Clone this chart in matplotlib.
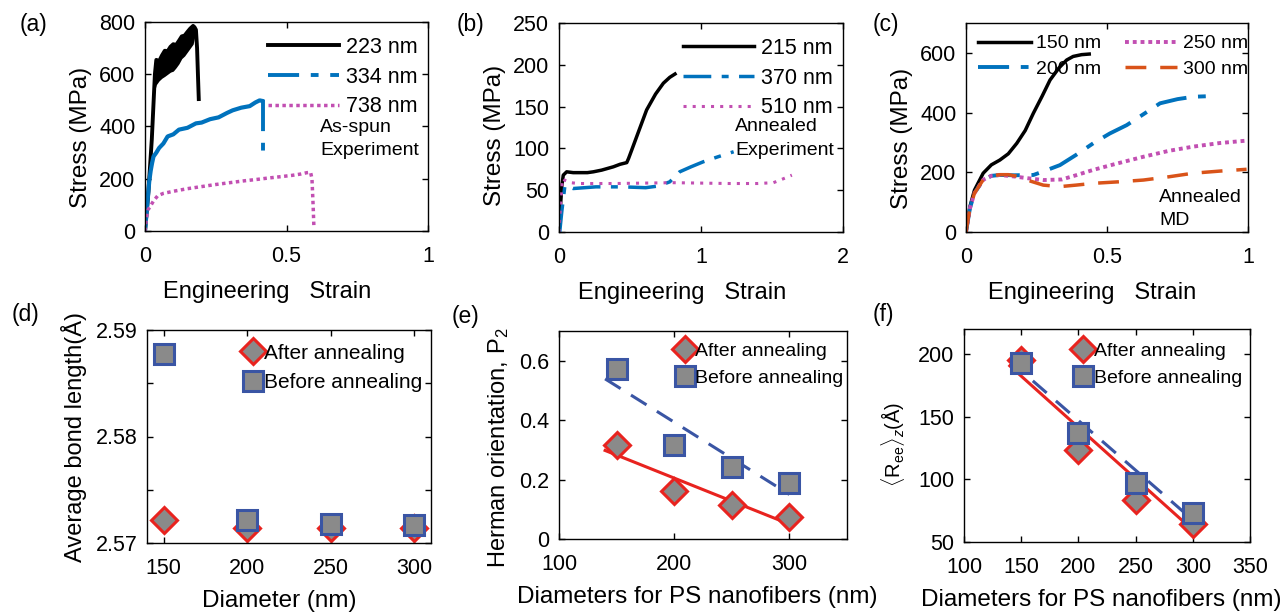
import matplotlib
matplotlib.use("Agg")
import matplotlib.pyplot as plt

plt.rcParams['font.family'] = ['Liberation Sans', 'DejaVu Sans']
plt.rcParams['mathtext.fontset'] = 'custom'
plt.rcParams['mathtext.rm'] = 'Liberation Sans'
plt.rcParams['mathtext.it'] = 'Liberation Sans:italic'
plt.rcParams['axes.linewidth'] = 1.0

# ============================================
# DATA
# ============================================

# -------- (a) As-spun experiment --------
a223_x = [0, 0.012, 0.024, 0.035, 0.04, 0.05, 0.06, 0.07, 0.08, 0.09, 0.10, 0.11, 0.12, 0.13, 0.14, 0.15, 0.16, 0.17, 0.175, 0.18, 0.184, 0.187, 0.19]
a223_y = [0, 150, 350, 600, 655, 650, 672, 690, 688, 705, 715, 712, 728, 745, 748, 762, 775, 785, 780, 770, 700, 600, 505]
a223_band_x = [0.035, 0.04, 0.05, 0.06, 0.07, 0.08, 0.09, 0.10, 0.11, 0.12, 0.13, 0.14, 0.15, 0.16, 0.17, 0.175]
a223_band_lo = [540, 560, 575, 585, 592, 600, 608, 612, 625, 640, 660, 670, 685, 700, 715, 740]
a223_band_hi = [600, 655, 650, 672, 690, 688, 705, 715, 712, 728, 745, 748, 762, 775, 785, 780]

a334_x = [0, 0.008, 0.015, 0.02, 0.025, 0.03, 0.04, 0.05, 0.065, 0.08, 0.1, 0.12, 0.15, 0.18, 0.2, 0.23, 0.26, 0.29, 0.31, 0.34, 0.37, 0.39, 0.405, 0.414]
a334_y = [0, 100, 190, 230, 260, 285, 300, 318, 335, 362, 370, 388, 395, 412, 415, 428, 435, 452, 462, 472, 478, 492, 500, 498]
a334_drop_x = [0.416, 0.416]
a334_drop_y = [500, 300]

a738_x = [0, 0.005, 0.01, 0.018, 0.03, 0.045, 0.065, 0.1, 0.15, 0.2, 0.25, 0.3, 0.35, 0.4, 0.43, 0.48, 0.52, 0.55, 0.571, 0.585, 0.59, 0.594, 0.597]
a738_y = [0, 50, 80, 93, 115, 135, 144, 152, 162, 170, 178, 185, 192, 198, 202, 208, 213, 218, 223, 225, 200, 100, 10]

# -------- (b) Annealed experiment --------
b215_x = [0, 0.01, 0.02, 0.03, 0.054, 0.1, 0.2, 0.242, 0.3, 0.383, 0.43, 0.477, 0.49, 0.512, 0.56, 0.617, 0.68, 0.735, 0.78, 0.817]
b215_y = [0, 30, 55, 68, 72, 71, 71, 72, 74, 78, 81, 83, 88, 98, 120, 146, 165, 178, 185, 189]

b370_x = [0.005, 0.02, 0.042, 0.07, 0.1, 0.26, 0.45, 0.61, 0.7, 0.78, 0.85, 0.93, 1.016, 1.12, 1.23]
b370_y = [0, 25, 56, 54, 52, 54, 54, 53, 55, 60, 72, 78, 84, 90, 96]

b510_x = [0, 0.01, 0.024, 0.04, 0.08, 0.14, 0.4, 0.8, 1.2, 1.4, 1.51, 1.57, 1.64]
b510_y = [0, 30, 64, 62, 59, 58, 58, 59, 58, 58, 59, 63, 68]

# -------- (c) Annealed MD --------
c150_x = [0, 0.014, 0.03, 0.061, 0.09, 0.12, 0.15, 0.18, 0.21, 0.239, 0.27, 0.298, 0.33, 0.357, 0.38, 0.41, 0.437]
c150_y = [0, 85, 140, 197, 225, 241, 262, 297, 340, 398, 455, 509, 550, 576, 588, 594, 596]
c200_x = [0, 0.014, 0.03, 0.061, 0.09, 0.12, 0.17, 0.239, 0.28, 0.333, 0.39, 0.451, 0.51, 0.57, 0.63, 0.688, 0.75, 0.806, 0.865]
c200_y = [0, 80, 130, 175, 188, 191, 190, 191, 205, 224, 258, 297, 330, 358, 395, 431, 445, 453, 455]
c250_x = [0, 0.014, 0.03, 0.061, 0.09, 0.12, 0.17, 0.22, 0.274, 0.34, 0.39, 0.451, 0.53, 0.629, 0.72, 0.806, 0.9, 0.995]
c250_y = [0, 80, 130, 175, 188, 191, 186, 180, 174, 176, 190, 208, 228, 252, 272, 286, 298, 306]
c300_x = [0, 0.014, 0.03, 0.061, 0.09, 0.12, 0.15, 0.19, 0.23, 0.274, 0.333, 0.39, 0.451, 0.54, 0.629, 0.72, 0.806, 0.9, 0.995]
c300_y = [0, 80, 130, 175, 188, 192, 192, 185, 170, 157, 152, 157, 163, 168, 174, 185, 197, 204, 210]

# -------- (d)-(f) vs diameter --------
diam = [150, 200, 250, 300]
bond_after = [2.5722, 2.5714, 2.5714, 2.5714]
bond_before = [2.5877, 2.5722, 2.5718, 2.5717]

herman_after = [0.315, 0.162, 0.114, 0.073]
herman_before = [0.572, 0.318, 0.242, 0.189]
herman_fit_x = [140, 300]
herman_fit_after = [0.298, 0.05]
herman_fit_before = [0.539, 0.15]

ree_after = [195.2, 123.8, 83.7, 64.5]
ree_before = [192.8, 137.2, 97.1, 73.5]
ree_fit_x = [140, 300]
ree_fit_after = [190.6, 59.6]
ree_fit_before = [194.6, 67.6]

# ============================================
# STYLE
# ============================================
BLUE = '#0072BD'
ORANGE = '#D95319'
MAG = '#C24FB2'
RED = '#E8231F'
DBLUE = '#3A55A4'
GRAY = '#8A8A8A'

W, H = 1288, 614
TICK_FS = 15.5
LEG_FS = 15.5
DASHDOT = (0, (8, 3, 2, 3))


def make_ax(l, r, t, b):
    ax = fig.add_axes([l / W, 1 - b / H, (r - l) / W, (b - t) / H])
    ax.tick_params(direction='in', top=True, right=True, labelsize=TICK_FS,
                   length=4, width=1.0)
    ax.tick_params(axis='x', pad=11)
    ax.tick_params(axis='y', pad=7)
    return ax


fig = plt.figure(figsize=(W / 100, H / 100), dpi=100)

# ---------------- (a) ----------------
ax = make_ax(145, 428, 22, 231)
ax.fill_between(a223_band_x, a223_band_lo, a223_band_hi, color='k', lw=0)
ax.plot(a223_x, a223_y, color='k', lw=2.8, label='223 nm')
ax.plot(a334_x, a334_y, color=BLUE, lw=3)
ax.plot(a334_drop_x, a334_drop_y, color=BLUE, lw=2.8, ls=DASHDOT, label='334 nm')
ax.plot(a738_x, a738_y, color=MAG, lw=2.5, ls=(0, (1, 1)), label='738 nm')
ax.set_xlim(0, 1)
ax.set_ylim(0, 800)
ax.set_xticks([0, 0.5, 1])
ax.set_xticklabels(['0', '0.5', '1'])
ax.set_yticks([0, 200, 400, 600, 800])
ax.set_xlabel('Engineering   Strain', fontsize=17, labelpad=10)
ax.xaxis.label.set_x(0.43)
ax.set_ylabel('Stress (MPa)', fontsize=17.5, labelpad=5)
ax.yaxis.label.set_y(0.45)
ax.legend(loc='upper right', bbox_to_anchor=(1.01, 0.99), frameon=False,
          fontsize=LEG_FS, handlelength=3.3, handletextpad=0.35, labelspacing=0.4,
          borderaxespad=0.2)
ax.text(0.618, 398, 'As-spun', fontsize=14, va='center')
ax.text(0.618, 310, 'Experiment', fontsize=14, va='center')

# ---------------- (b) ----------------
ax = make_ax(559, 843, 23, 232)
ax.plot(b215_x, b215_y, color='k', lw=2.5, label='215 nm')
ax.plot(b370_x, b370_y, color=BLUE, lw=2.5, ls=DASHDOT, label='370 nm')
ax.plot(b510_x, b510_y, color=MAG, lw=2.2, ls=(0, (1, 2)), label='510 nm')
ax.set_xlim(0, 2)
ax.set_ylim(0, 250)
ax.set_xticks([0, 1, 2])
ax.set_yticks([0, 50, 100, 150, 200, 250])
ax.set_xlabel('Engineering   Strain', fontsize=17, labelpad=10)
ax.xaxis.label.set_x(0.435)
ax.set_ylabel('Stress (MPa)', fontsize=17.5, labelpad=5)
ax.yaxis.label.set_y(0.46)
ax.legend(loc='upper right', bbox_to_anchor=(1.01, 0.99), frameon=False,
          fontsize=LEG_FS, handlelength=3.3, handletextpad=0.35, labelspacing=0.4,
          borderaxespad=0.2)
ax.text(1.24, 126, 'Annealed', fontsize=14, va='center')
ax.text(1.24, 98, 'Experiment', fontsize=14, va='center')

# ---------------- (c) ----------------
ax = make_ax(966, 1248, 23, 232)
ax.plot(c150_x, c150_y, color='k', lw=2.5, label='150 nm')
ax.plot(c200_x, c200_y, color=BLUE, lw=2.8, ls=DASHDOT, label='200 nm')
ax.plot(c250_x, c250_y, color=MAG, lw=2.8, ls=(0, (1, 1)), label='250 nm')
ax.plot(c300_x, c300_y, color=ORANGE, lw=2.5, ls=(0, (6, 4)), label='300 nm')
ax.set_xlim(0, 1)
ax.set_ylim(0, 700)
ax.set_xticks([0, 0.5, 1])
ax.set_xticklabels(['0', '0.5', '1'])
ax.set_yticks([0, 200, 400, 600])
ax.set_xlabel('Engineering   Strain', fontsize=17, labelpad=10)
ax.xaxis.label.set_x(0.447)
ax.set_ylabel('Stress (MPa)', fontsize=17.5, labelpad=5)
ax.yaxis.label.set_y(0.45)
ax.legend(loc='upper left', bbox_to_anchor=(0.005, 0.995), ncol=2, frameon=False,
          fontsize=14, handlelength=2.7, handletextpad=0.3, labelspacing=0.4,
          columnspacing=1.2, borderaxespad=0.15)
ax.text(0.684, 114, 'Annealed', fontsize=14, va='center')
ax.text(0.684, 40, 'MD', fontsize=14, va='center')


def scatter_pair(ax, after, before):
    ax.plot(diam, after, ls='none', marker='D', ms=13, mfc=GRAY, mec=RED, mew=2.2,
            label='After annealing')
    ax.plot(diam, before, ls='none', marker='s', ms=14, mfc=GRAY, mec=DBLUE, mew=2.2,
            label='Before annealing')


def pair_legend(ax, anchor, fs):
    ax.legend(loc='upper right', bbox_to_anchor=anchor, frameon=False, fontsize=fs,
              handlelength=1.0, handletextpad=0.05, labelspacing=0.5, borderaxespad=0.0)


# ---------------- (d) ----------------
ax = make_ax(147, 431, 330, 543)
scatter_pair(ax, bond_after, bond_before)
ax.set_xlim(140, 310)
ax.set_ylim(2.57, 2.59)
ax.set_xticks([150, 200, 250, 300])
ax.set_yticks([2.57, 2.575, 2.58, 2.585, 2.59])
ax.set_yticklabels(['2.57', '', '2.58', '', '2.59'])
ax.set_xlabel('Diameter (nm)', fontsize=17.5, labelpad=8)
ax.xaxis.label.set_x(0.465)
ax.set_ylabel('Average bond length(Å)', fontsize=17, labelpad=6)
pair_legend(ax, (1.0, 0.975), 15)

# ---------------- (e) ----------------
ax = make_ax(559, 847, 331, 539)
ax.plot(herman_fit_x, herman_fit_after, color=RED, lw=2.2)
ax.plot(herman_fit_x, herman_fit_before, color=DBLUE, lw=2.2, ls=(0, (6, 4)))
scatter_pair(ax, herman_after, herman_before)
ax.set_xlim(100, 350)
ax.set_ylim(0, 0.7)
ax.set_xticks([100, 200, 300])
ax.set_yticks([0, 0.2, 0.4, 0.6])
ax.set_yticklabels(['0', '0.2', '0.4', '0.6'])
ax.set_xlabel('Diameters for PS nanofibers (nm)', fontsize=17.5, labelpad=8)
ax.xaxis.label.set_x(0.48)
ax.set_ylabel('Herman orientation, P$_2$', fontsize=17, labelpad=6)
ax.yaxis.label.set_y(0.44)
pair_legend(ax, (1.015, 0.985), 14)

# ---------------- (f) ----------------
ax = make_ax(964, 1250, 329, 542)
ax.plot(ree_fit_x, ree_fit_after, color=RED, lw=2.2)
ax.plot(ree_fit_x, ree_fit_before, color=DBLUE, lw=2.2, ls=(0, (6, 4)))
scatter_pair(ax, ree_after, ree_before)
ax.set_xlim(100, 350)
ax.set_ylim(50, 220)
ax.set_xticks([100, 150, 200, 250, 300, 350])
ax.set_yticks([50, 100, 150, 200])
ax.set_xlabel('Diameters for PS nanofibers (nm)', fontsize=17.5, labelpad=8)
ax.xaxis.label.set_x(0.48)
ax.set_ylabel(r'$\langle\mathrm{R}_{\mathrm{ee}}\rangle_z$(Å)', fontsize=14.5, labelpad=8)
ax.yaxis.label.set_y(0.46)
pair_legend(ax, (1.0, 0.975), 14)

# panel letters
for lab, px, py in [('(a)', 20, 25), ('(b)', 457, 25), ('(c)', 873, 24),
                    ('(d)', 12, 315), ('(e)', 452, 316), ('(f)', 873, 315)]:
    fig.text(px / W, 1 - py / H, lab, fontsize=16.5, va='center', ha='left')

fig.savefig('out.png', dpi=100)
